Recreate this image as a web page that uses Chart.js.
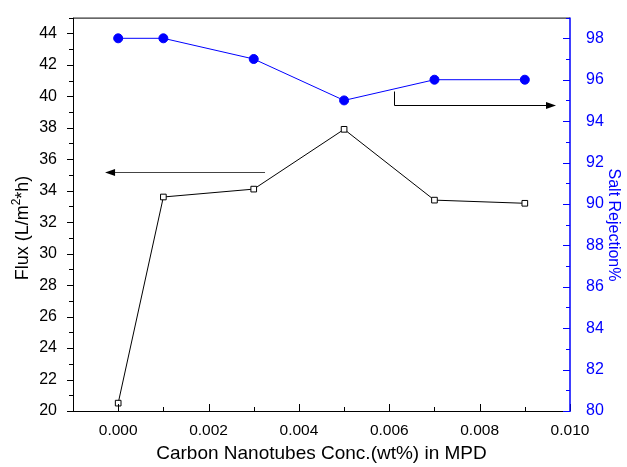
<!DOCTYPE html>
<html><head><meta charset="utf-8">
<script src="https://cdn.jsdelivr.net/npm/chart.js@4"></script>
<style>html,body{margin:0;padding:0;background:#fff}#c{display:block}</style>
</head><body>
<canvas id="c" width="627" height="467"></canvas>
<script>
const concentrations = [0, 0.001, 0.003, 0.005, 0.007, 0.009];
const fluxValues = [20.5, 33.6, 34.1, 37.9, 33.4, 33.2];
const rejectionValues = [98, 98, 97, 95, 96, 96];
const xTickValues = [0, 0.002, 0.004, 0.006, 0.008, 0.010];
const xMinorTickValues = [0.001, 0.003, 0.005, 0.007, 0.009];
const fluxTickValues = [20, 22, 24, 26, 28, 30, 32, 34, 36, 38, 40, 42, 44];
const fluxMinorTickValues = [21, 23, 25, 27, 29, 31, 33, 35, 37, 39, 41, 43, 45];
const rejectionTickValues = [80, 82, 84, 86, 88, 90, 92, 94, 96, 98];
const rejectionMinorTickValues = [81, 83, 85, 87, 89, 91, 93, 95, 97, 99];
const xTitle = 'Carbon Nanotubes Conc.(wt%) in MPD';
const fluxTitleParts = ['Flux (L/m', '2', '*h)'];
const rejectionTitle = 'Salt Rejection%';
// arrows in data coordinates: [x, y]
const fluxArrow = { from: [0.00325, 35.16], to: [-0.00029, 35.16] };
const rejectionArrow = { corner: [0.00611, 95.43], from: [0.00611, 94.8], to: [0.00969, 94.8] };

const FONT = 'Liberation Sans, Arial, sans-serif';
const BLUE = '#0000ff';

const decorPlugin = {
  id: 'decor',
  afterDraw(chart) {
    const ctx = chart.ctx;
    const a = chart.chartArea;
    const xs = chart.scales.x, ys = chart.scales.y, rs = chart.scales.y1;
    ctx.save();
    ctx.lineWidth = 1;
    // frame
    ctx.strokeStyle = '#000';
    ctx.beginPath();
    ctx.moveTo(a.left + 0.5, a.top + 0.5); ctx.lineTo(a.right, a.top + 0.5);
    ctx.moveTo(a.left + 0.5, a.top); ctx.lineTo(a.left + 0.5, a.bottom + 0.5);
    ctx.moveTo(a.left, a.bottom + 0.5); ctx.lineTo(a.right, a.bottom + 0.5);
    ctx.stroke();
    // x ticks (inside)
    ctx.beginPath();
    xTickValues.forEach(v => { const px = Math.round(xs.getPixelForValue(v)) + 0.5; ctx.moveTo(px, a.bottom); ctx.lineTo(px, a.bottom - 7); });
    xMinorTickValues.forEach(v => { const px = Math.round(xs.getPixelForValue(v)) + 0.5; ctx.moveTo(px, a.bottom); ctx.lineTo(px, a.bottom - 4); });
    // left ticks (outside)
    fluxTickValues.forEach(v => { const py = Math.round(ys.getPixelForValue(v)) + 0.5; ctx.moveTo(a.left, py); ctx.lineTo(a.left - 6, py); });
    fluxMinorTickValues.forEach(v => { if (v <= ys.max) { const py = Math.round(ys.getPixelForValue(v)) + 0.5; ctx.moveTo(a.left, py); ctx.lineTo(a.left - 4, py); } });
    ctx.stroke();
    // right axis (blue)
    ctx.strokeStyle = BLUE;
    ctx.lineWidth = 1.5;
    ctx.beginPath();
    ctx.moveTo(a.right, a.top); ctx.lineTo(a.right, a.bottom + 1);
    ctx.stroke();
    ctx.lineWidth = 1;
    ctx.beginPath();
    rejectionTickValues.forEach(v => { const py = Math.round(rs.getPixelForValue(v)) + 0.5; ctx.moveTo(a.right, py); ctx.lineTo(a.right - 7, py); });
    rejectionMinorTickValues.forEach(v => { if (v <= rs.max) { const py = Math.round(rs.getPixelForValue(v)) + 0.5; ctx.moveTo(a.right, py); ctx.lineTo(a.right - 4, py); } });
    ctx.stroke();
    // arrows
    function arrowHead(x, y, dir) {
      ctx.beginPath();
      ctx.moveTo(x, y);
      ctx.lineTo(x - dir * 10, y - 3.5);
      ctx.lineTo(x - dir * 10, y + 3.5);
      ctx.closePath();
      ctx.fill();
    }
    ctx.strokeStyle = '#444';
    ctx.fillStyle = '#000';
    let fx1 = xs.getPixelForValue(fluxArrow.from[0]), fx2 = xs.getPixelForValue(fluxArrow.to[0]);
    let fy = Math.round(ys.getPixelForValue(fluxArrow.from[1])) + 0.5;
    ctx.beginPath(); ctx.moveTo(fx1, fy); ctx.lineTo(fx2 + 8, fy); ctx.stroke();
    arrowHead(fx2, fy, -1);
    ctx.strokeStyle = '#000';
    let rx0 = Math.round(xs.getPixelForValue(rejectionArrow.corner[0])) + 0.5;
    let ry0 = rs.getPixelForValue(rejectionArrow.corner[1]);
    let ry = Math.round(rs.getPixelForValue(rejectionArrow.from[1])) + 0.5;
    let rx2 = xs.getPixelForValue(rejectionArrow.to[0]);
    ctx.beginPath(); ctx.moveTo(rx0, ry0); ctx.lineTo(rx0, ry); ctx.lineTo(rx2 - 8, ry); ctx.stroke();
    arrowHead(rx2, ry, 1);
    // titles
    ctx.fillStyle = '#000';
    ctx.font = '19px ' + FONT;
    ctx.textAlign = 'center';
    ctx.textBaseline = 'middle';
    ctx.fillText(xTitle, (a.left + a.right) / 2, 454);
    // left title with superscript
    ctx.save();
    ctx.translate(23, 228);
    ctx.rotate(-Math.PI / 2);
    ctx.font = '18px ' + FONT;
    const w1 = ctx.measureText(fluxTitleParts[0]).width;
    ctx.font = '12px ' + FONT;
    const w2 = ctx.measureText(fluxTitleParts[1]).width;
    ctx.font = '18px ' + FONT;
    const w3 = ctx.measureText(fluxTitleParts[2]).width;
    let sx = -(w1 + w2 + w3) / 2;
    ctx.textAlign = 'left';
    ctx.fillText(fluxTitleParts[0], sx, 0);
    ctx.font = '12px ' + FONT;
    ctx.fillText(fluxTitleParts[1], sx + w1, -6);
    ctx.font = '18px ' + FONT;
    ctx.fillText(fluxTitleParts[2], sx + w1 + w2, 0);
    ctx.restore();
    // right title
    ctx.save();
    ctx.fillStyle = BLUE;
    ctx.translate(613, 225);
    ctx.rotate(Math.PI / 2);
    ctx.font = '16px ' + FONT;
    ctx.textAlign = 'center';
    ctx.fillText(rejectionTitle, 0, 0);
    ctx.restore();
    ctx.restore();
  }
};

new Chart(document.getElementById('c'), {
  type: 'line',
  data: {
    datasets: [
      {
        label: 'Flux',
        data: concentrations.map((x, i) => ({ x, y: fluxValues[i] })),
        yAxisID: 'y',
        borderColor: '#000',
        borderWidth: 1,
        pointStyle: 'rect',
        pointRadius: 4,
        pointBackgroundColor: '#fff',
        pointBorderColor: '#000',
        pointBorderWidth: 1,
        tension: 0,
        order: 1
      },
      {
        label: 'Salt Rejection',
        data: concentrations.map((x, i) => ({ x, y: rejectionValues[i] })),
        yAxisID: 'y1',
        borderColor: BLUE,
        borderWidth: 1,
        pointStyle: 'circle',
        pointRadius: 4.5,
        pointBackgroundColor: BLUE,
        pointBorderColor: BLUE,
        tension: 0,
        order: 2
      }
    ]
  },
  options: {
    responsive: false,
    animation: false,
    devicePixelRatio: 1,
    layout: { padding: 0 },
    plugins: { legend: { display: false }, tooltip: { enabled: false } },
    scales: {
      x: {
        type: 'linear', position: 'bottom', min: -0.001, max: 0.010,
        afterBuildTicks: s => { s.ticks = xTickValues.map(v => ({ value: v })); },
        afterFit: s => { s.height = 56; },
        ticks: { callback: v => Number(v).toFixed(3), font: { family: FONT, size: 15.5 }, color: '#000', padding: 2, maxRotation: 0, autoSkip: false },
        grid: { display: false }, border: { display: false }
      },
      y: {
        type: 'linear', position: 'left', min: 20, max: 45,
        afterBuildTicks: s => { s.ticks = fluxTickValues.map(v => ({ value: v })); },
        afterFit: s => { s.width = 73; },
        ticks: { font: { family: FONT, size: 16 }, color: '#000', padding: 8, autoSkip: false },
        grid: { display: false }, border: { display: false }
      },
      y1: {
        type: 'linear', position: 'right', min: 80, max: 99,
        afterBuildTicks: s => { s.ticks = rejectionTickValues.map(v => ({ value: v })); },
        afterFit: s => { s.width = 57; },
        ticks: { font: { family: FONT, size: 16 }, color: BLUE, padding: 8, autoSkip: false },
        grid: { display: false }, border: { display: false }
      }
    }
  },
  plugins: [decorPlugin]
});
</script>
</body></html>
